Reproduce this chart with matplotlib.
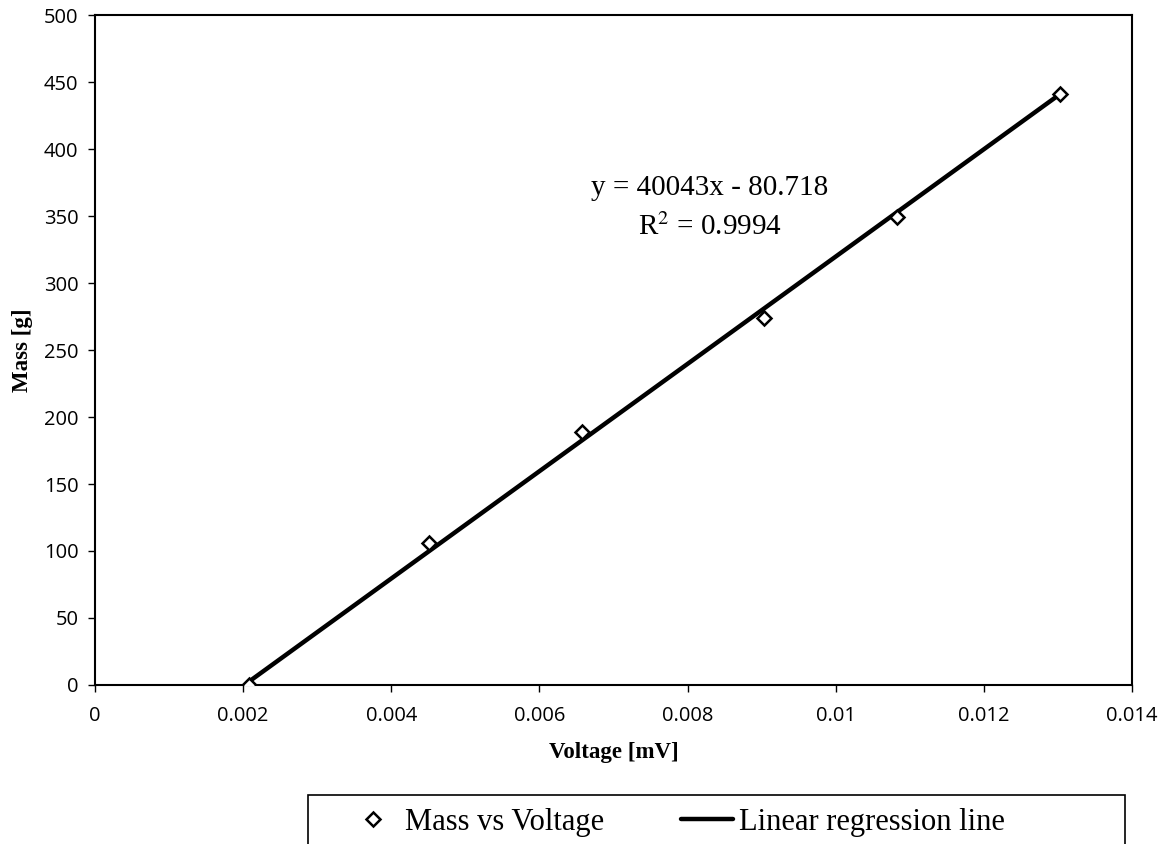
import numpy as np
import matplotlib
matplotlib.use("Agg")
import matplotlib.pyplot as plt
from matplotlib.patches import Rectangle

# data
voltage = [0.00208, 0.00451, 0.00657, 0.00903, 0.01083, 0.01303]
mass = [0, 106, 189, 274, 349, 441]

slope = 40043
intercept = -80.718
r2 = 0.9994

x_ticks = [0, 0.002, 0.004, 0.006, 0.008, 0.01, 0.012, 0.014]
x_tick_labels = ["0", "0.002", "0.004", "0.006", "0.008", "0.01", "0.012", "0.014"]
y_ticks = [0, 50, 100, 150, 200, 250, 300, 350, 400, 450, 500]

fig = plt.figure(figsize=(11.7, 8.44), dpi=100)
ax = fig.add_axes([0.0812, 0.1884, 0.8863, 0.7938])

# regression line over data range
xl = np.array([min(voltage), max(voltage)])
ax.plot(xl, slope * xl + intercept, color="black", lw=3.2, solid_capstyle="round",
        label="Linear regression line", zorder=2)
ax.plot(voltage, mass, linestyle="none", marker="D", markersize=7,
        markerfacecolor="white", markeredgecolor="black", markeredgewidth=1.8,
        label="Mass vs Voltage", zorder=3)

ax.set_xlim(0, 0.014)
ax.set_ylim(0, 500)
ax.set_xticks(x_ticks)
ax.set_xticklabels(x_tick_labels)
ax.set_yticks(y_ticks)
for lab in ax.get_xticklabels() + ax.get_yticklabels():
    lab.set_fontfamily("Open Sans")
    lab.set_fontsize(14.5)
ax.tick_params(direction="out", length=5, width=1, top=False, right=False, pad=10)
ax.tick_params(axis="y", pad=7)
for s in ax.spines.values():
    s.set_linewidth(1.5)
    s.set_color("black")

ax.set_xlabel("Voltage [mV]", fontfamily="Liberation Serif", fontweight="bold",
              fontsize=16.5, labelpad=12)
ax.set_ylabel("Mass [g]", fontfamily="Liberation Serif", fontweight="bold",
              fontsize=16.5, labelpad=8)

# equation annotation
ax.text(0.0083, 371, "y = 40043x - 80.718", fontfamily="Liberation Serif",
        fontsize=21, ha="center", va="center")
ax.text(0.0083, 342, "R$^2$ = %.4f" % r2, fontfamily="Liberation Serif",
        fontsize=21, ha="center", va="center", math_fontfamily="stix")

# legend box below the plot (cut off at the bottom edge)
fig.patches.append(Rectangle((308 / 1170, -0.02), (1125 - 308) / 1170, 0.02 + 49 / 844,
                             transform=fig.transFigure, fill=False,
                             edgecolor="black", linewidth=1.2))
h, l = ax.get_legend_handles_labels()
leg = fig.legend(h[::-1], l[::-1], loc="center left", ncol=2,
                 bbox_to_anchor=(347 / 1170, 0.026), frameon=False,
                 borderpad=0, borderaxespad=0, handlelength=1.7,
                 handletextpad=0.2, columnspacing=2.5,
                 prop={"family": "Liberation Serif", "size": 22})

fig.savefig("out.png", dpi=100)
